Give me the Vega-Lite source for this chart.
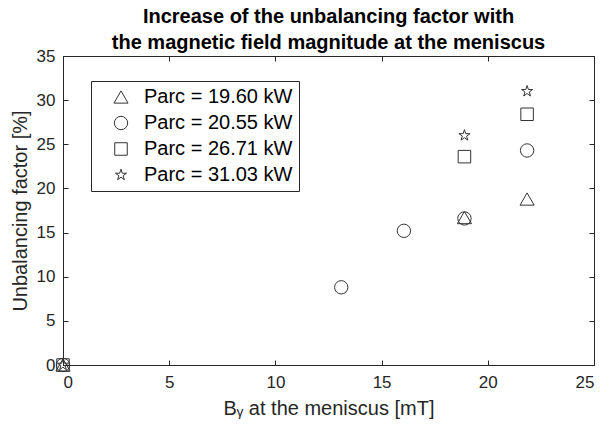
{
  "$schema": "https://vega.github.io/schema/vega-lite/v6.json",
  "autosize": {"type": "none"},
  "width": 531,
  "height": 309,
  "padding": {"left": 63, "top": 56, "right": 17, "bottom": 69},
  "background": "white",
  "title": {
    "text": ["Increase of the unbalancing factor with", "the magnetic field magnitude at the meniscus"],
    "font": "Liberation Sans",
    "fontSize": 20,
    "fontWeight": "bold",
    "color": "#000",
    "offset": 5,
    "dy": 11,
    "lineHeight": 26,
    "anchor": "middle"
  },
  "config": {
    "view": {"stroke": "#262626", "strokeWidth": 1},
    "font": "Liberation Sans",
    "axis": {
      "grid": false,
      "domainColor": "#262626",
      "tickColor": "#262626",
      "labelFont": "Liberation Sans",
      "labelFontSize": 17,
      "labelColor": "#262626",
      "titleFont": "Liberation Sans",
      "titleFontSize": 20,
      "titleFontWeight": "normal",
      "titleColor": "#262626"
    }
  },
  "data": {
    "values": [
      {"series": "Parc = 19.60 kW", "b": 0, "u": 0},
      {"series": "Parc = 19.60 kW", "b": 18.9, "u": 16.7},
      {"series": "Parc = 19.60 kW", "b": 21.85, "u": 18.8},
      {"series": "Parc = 20.55 kW", "b": 0, "u": 0},
      {"series": "Parc = 20.55 kW", "b": 13.1, "u": 8.8},
      {"series": "Parc = 20.55 kW", "b": 16.05, "u": 15.2},
      {"series": "Parc = 20.55 kW", "b": 18.9, "u": 16.6},
      {"series": "Parc = 20.55 kW", "b": 21.85, "u": 24.3},
      {"series": "Parc = 26.71 kW", "b": 0, "u": 0},
      {"series": "Parc = 26.71 kW", "b": 18.9, "u": 23.6},
      {"series": "Parc = 26.71 kW", "b": 21.85, "u": 28.4},
      {"series": "Parc = 31.03 kW", "b": 0, "u": 0},
      {"series": "Parc = 31.03 kW", "b": 18.9, "u": 26.0},
      {"series": "Parc = 31.03 kW", "b": 21.85, "u": 31.0}
    ]
  },
  "layer": [
    {
      "mark": {"type": "point", "filled": false, "strokeWidth": 1, "color": "#333", "opacity": 1},
      "encoding": {
        "x": {"field": "b", "type": "quantitative", "scale": {"domain": [0, 25], "nice": false, "zero": false},
          "axis": {"orient": "bottom", "values": [0, 5, 10, 15, 20, 25], "title": "Bᵧ at the meniscus [mT]", "tickSize": -5, "labelPadding": 14, "titlePadding": 8}},
        "y": {"field": "u", "type": "quantitative", "scale": {"domain": [0, 35], "nice": false},
          "axis": {"orient": "left", "values": [0, 5, 10, 15, 20, 25, 30, 35], "title": "Unbalancing factor [%]", "tickSize": -5, "labelPadding": 13, "titlePadding": 6}},
        "shape": {"field": "series", "type": "nominal",
          "scale": {"domain": ["Parc = 19.60 kW", "Parc = 20.55 kW", "Parc = 26.71 kW", "Parc = 31.03 kW"],
            "range": ["triangle-up", "circle", "square", "M0,-1L0.225,-0.309L0.951,-0.309L0.363,0.118L0.588,0.809L0,0.382L-0.588,0.809L-0.363,0.118L-0.951,-0.309L-0.225,-0.309Z"]},
          "legend": {
            "title": null, "orient": "none", "legendX": 28, "legendY": 25,
            "strokeColor": "#262626", "fillColor": "white", "padding": 6,
            "labelFontSize": 20, "labelFont": "Liberation Sans", "labelColor": "#000",
            "rowPadding": 6, "symbolOffset": 14, "labelOffset": 13,
            "symbolStrokeColor": "#333", "symbolStrokeWidth": 1
          }},
        "size": {"field": "series", "type": "nominal",
          "scale": {"domain": ["Parc = 19.60 kW", "Parc = 20.55 kW", "Parc = 26.71 kW", "Parc = 31.03 kW"], "range": [200, 135, 100, 130]}}
      }
    },
    {
      "mark": {"type": "point", "opacity": 0},
      "encoding": {
        "x": {"field": "b", "type": "quantitative", "axis": {"orient": "top", "labels": false, "title": null, "domain": false, "tickSize": -5, "values": [0, 5, 10, 15, 20, 25]}},
        "y": {"field": "u", "type": "quantitative", "axis": {"orient": "right", "labels": false, "title": null, "domain": false, "tickSize": -5, "values": [0, 5, 10, 15, 20, 25, 30, 35]}}
      }
    }
  ],
  "resolve": {"axis": {"x": "independent", "y": "independent"}}
}
